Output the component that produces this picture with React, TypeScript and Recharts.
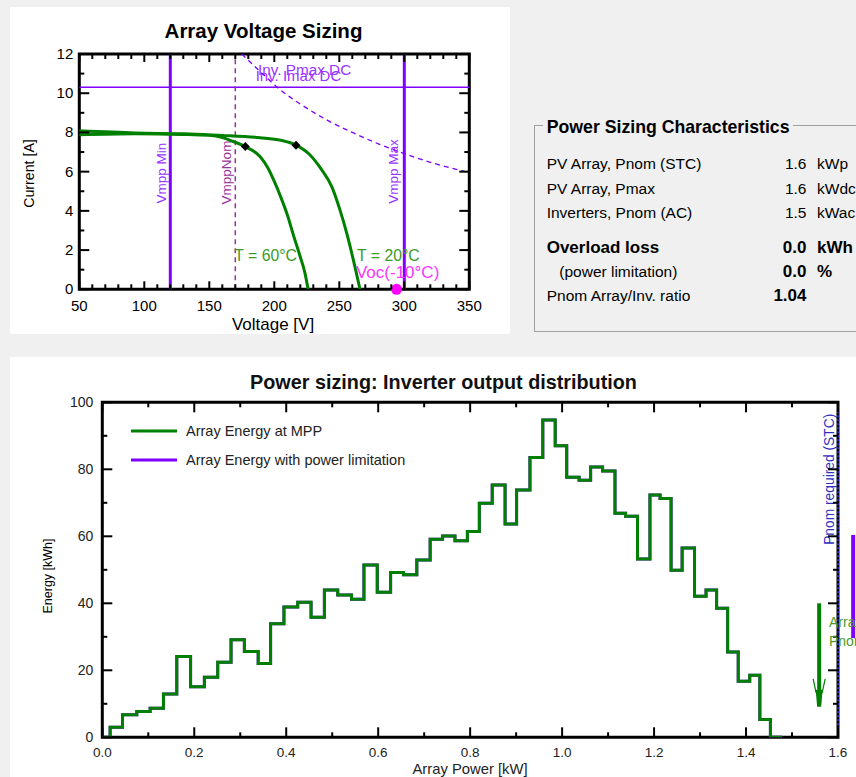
import React from 'react';
import { ComposedChart, Line, XAxis, YAxis, ReferenceLine, ReferenceDot, ReferenceArea } from 'recharts';

const FONT = "'Liberation Sans', Arial, Helvetica, sans-serif";

// ---------------- Array Voltage Sizing data ----------------
const ivVoltage60 = [50, 93, 130, 150, 160, 168, 177.7, 189, 195, 200, 205, 210, 215, 220, 223.5, 226];
const ivCurrent60 = [7.88, 7.93, 7.9, 7.85, 7.74, 7.55, 7.28, 6.77, 6.2, 5.5, 4.7, 3.8, 2.7, 1.65, 0.85, 0];
const ivVoltage20 = [50, 93, 130, 160, 189, 205, 216.7, 227.5, 236.5, 244.2, 250.5, 255.7, 260.8, 265.9];
const ivCurrent20 = [8.08, 7.97, 7.93, 7.85, 7.73, 7.6, 7.35, 6.85, 6.09, 5.24, 4.05, 2.86, 1.5, 0];
const pmaxVoltage = [175, 190, 205, 220, 240, 260, 280, 300, 325, 350];
const pmaxCurrent = [12.0, 11.05, 10.15, 9.45, 8.65, 8.0, 7.42, 6.92, 6.38, 5.95];
const vmppMin = 120;
const vmppNom = 170;
const vmppMax = 300;
const invImaxDC = 10.3;
const mppPoints = [
  { v: 177.7, i: 7.28 },
  { v: 216.7, i: 7.35 },
];
const vocMinus10 = 294;
const voltageTicks = [50, 60, 70, 80, 90, 100, 110, 120, 130, 140, 150, 160, 170, 180, 190, 200, 210, 220, 230, 240, 250, 260, 270, 280, 290, 300, 310, 320, 330, 340, 350];
const currentTicks = [0, 1, 2, 3, 4, 5, 6, 7, 8, 9, 10, 11, 12];

// ---------------- Power sizing data ----------------
const powerBinEdges = [0, 0.017, 0.044, 0.075, 0.104, 0.133, 0.162, 0.192, 0.222, 0.251, 0.28, 0.309, 0.339, 0.366, 0.395, 0.425, 0.454, 0.483, 0.512, 0.542, 0.569, 0.598, 0.627, 0.655, 0.684, 0.713, 0.74, 0.767, 0.794, 0.82, 0.848, 0.876, 0.901, 0.93, 0.958, 0.985, 1.01, 1.037, 1.062, 1.088, 1.115, 1.138, 1.164, 1.191, 1.213, 1.237, 1.261, 1.288, 1.313, 1.336, 1.36, 1.383, 1.408, 1.43, 1.453, 1.478];
const energyAtMPP = [0, 3.0, 6.7, 7.7, 8.7, 12.9, 24.1, 15.1, 17.9, 22.4, 29.1, 25.6, 22.0, 33.9, 38.9, 40.3, 35.8, 44.0, 42.5, 41.2, 51.4, 43.3, 49.2, 48.5, 52.9, 59.1, 60.1, 58.7, 61.4, 69.9, 75.3, 63.7, 73.8, 83.5, 94.7, 87.0, 77.6, 76.7, 80.7, 79.5, 66.9, 66.0, 53.2, 72.3, 71.3, 49.9, 56.5, 42.1, 44.0, 38.5, 25.5, 16.7, 18.5, 5.3, 0, 0];
const energyWithLimitation = [0, 3.0, 6.7, 7.7, 8.7, 12.9, 24.1, 15.1, 17.9, 22.4, 29.1, 25.6, 22.0, 33.9, 38.9, 40.3, 35.8, 44.0, 42.5, 41.2, 51.4, 43.3, 49.2, 48.5, 52.9, 59.1, 60.1, 58.7, 61.4, 69.9, 75.3, 63.7, 73.8, 83.5, 94.7, 87.0, 77.6, 76.7, 80.7, 79.5, 66.9, 66.0, 53.2, 72.3, 71.3, 49.9, 56.5, 42.1, 44.0, 38.5, 25.5, 16.7, 18.5, 5.3, 0, 0];
const powerTicks = [0, 0.1, 0.2, 0.3, 0.4, 0.5, 0.6, 0.7, 0.8, 0.9, 1.0, 1.1, 1.2, 1.3, 1.4, 1.5, 1.6];
const energyTicks = [0, 10, 20, 30, 40, 50, 60, 70, 80, 90, 100];
const pnomRequired = 1.6;
const arrayArrow = { p: 1.559, top: 40, bottom: 9.1 };
const limitArrow = { p: 1.633, top: 60.4, bottom: 29.6 };

// ---------------- Panel text ----------------
const rowLabels = ['PV Array, Pnom (STC)', 'PV Array, Pmax', 'Inverters, Pnom (AC)', 'Overload loss', '(power limitation)', 'Pnom Array/Inv. ratio'];
const rowValues = ['1.6', '1.6', '1.5', '0.0', '0.0', '1.04'];
const rowUnits = ['kWp', 'kWdc', 'kWac', 'kWh', '%', ''];

const iv60Data = ivVoltage60.map((v, k) => ({ v, i: ivCurrent60[k] }));
const iv20Data = ivVoltage20.map((v, k) => ({ v, i: ivCurrent20[k] }));
const pmaxData = pmaxVoltage.map((v, k) => ({ v, i: pmaxCurrent[k] }));
const mppData = powerBinEdges.map((p, k) => ({ p, e: energyAtMPP[k] }));
const limData = powerBinEdges.map((p, k) => ({ p, e: energyWithLimitation[k] }));

type TickCfg = {
  span: number;
  isMajor: (v: number) => boolean;
  fmt: (v: number) => string;
  majorLen: number;
  minorLen: number;
  fontSize: number;
  offset: number;
  color: string;
};

const renderXTick = (cfg: TickCfg) => (props: any) => {
  const { x, y, payload } = props;
  const v = payload.value;
  const major = cfg.isMajor(v);
  const len = major ? cfg.majorLen : cfg.minorLen;
  return (
    <g>
      <line x1={x} y1={y} x2={x} y2={y - len} stroke="#000" strokeWidth={2} />
      <line x1={x} y1={y - cfg.span} x2={x} y2={y - cfg.span + len} stroke="#000" strokeWidth={2} />
      {major && (
        <text x={x} y={y + cfg.offset} textAnchor="middle" fontSize={cfg.fontSize} fill={cfg.color} fontFamily={FONT}>
          {cfg.fmt(v)}
        </text>
      )}
    </g>
  );
};

const renderYTick = (cfg: TickCfg) => (props: any) => {
  const { x, y, payload } = props;
  const v = payload.value;
  const major = cfg.isMajor(v);
  const len = major ? cfg.majorLen : cfg.minorLen;
  return (
    <g>
      <line x1={x} y1={y} x2={x + len} y2={y} stroke="#000" strokeWidth={2} />
      <line x1={x + cfg.span} y1={y} x2={x + cfg.span - len} y2={y} stroke="#000" strokeWidth={2} />
      {major && (
        <text x={x - cfg.offset} y={y + 5} textAnchor="end" fontSize={cfg.fontSize} fill={cfg.color} fontFamily={FONT}>
          {cfg.fmt(v)}
        </text>
      )}
    </g>
  );
};

const vText = (text: string, dx: number, dy: number, color: string, size: number) => (p: any) => {
  const vb = p.viewBox || {};
  const x = vb.x + dx;
  const y = vb.y + dy;
  return (
    <text x={x} y={y} transform={`rotate(-90 ${x} ${y})`} textAnchor="middle" fontSize={size} fill={color} fontFamily={FONT}>
      {text}
    </text>
  );
};

const pointText = (text: string, color: string, size: number) => (p: any) => {
  const vb = p.viewBox || {};
  return (
    <text x={vb.x} y={vb.y} fontSize={size} fill={color} fontFamily={FONT}>
      {text}
    </text>
  );
};

const diamond = (p: any) => {
  const { cx, cy } = p;
  const s = 4.5;
  return <polygon points={`${cx},${cy - s} ${cx + s},${cy} ${cx},${cy + s} ${cx - s},${cy}`} fill="#000" />;
};

const arrowHead = (p: any) => {
  const { cx, cy } = p;
  return (
    <g>
      <polygon points={`${cx - 3.5},${cy - 17} ${cx + 3.5},${cy - 17} ${cx + 2},${cy} ${cx - 2},${cy}`} fill="#008000" />
      <line x1={cx - 6} y1={cy - 28} x2={cx - 3} y2={cy - 14} stroke="#008000" strokeWidth={1.2} />
      <line x1={cx + 6} y1={cy - 28} x2={cx + 3} y2={cy - 14} stroke="#008000" strokeWidth={1.2} />
    </g>
  );
};

const TOP_W = 500;
const TOP_H = 327;
const topMargin = { top: 47, right: 40.7, bottom: 14.7, left: 29.3 };
const TOP_PLOT_H = TOP_H - topMargin.top - topMargin.bottom - 30;
const TOP_PLOT_W = TOP_W - topMargin.left - topMargin.right - 40;

const BOT_W = 846;
const BOT_H = 420;
const botMargin = { top: 45.3, right: 18, bottom: 9.7, left: 42.3 };
const BOT_PLOT_H = BOT_H - botMargin.top - botMargin.bottom - 30;
const BOT_PLOT_W = BOT_W - botMargin.left - botMargin.right - 50;

const VIOLET = '#8000ff';
const GREEN = '#008000';

function VoltageChart() {
  return (
    <ComposedChart width={TOP_W} height={TOP_H} margin={topMargin}>
      <XAxis
        dataKey="v"
        type="number"
        domain={[50, 350]}
        ticks={voltageTicks}
        interval={0}
        allowDataOverflow
        axisLine={false}
        tickLine={false}
        tickSize={0}
        tickMargin={0}
        height={30}
        tick={renderXTick({
          span: TOP_PLOT_H,
          isMajor: (v) => v % 50 === 0,
          fmt: (v) => String(v),
          majorLen: 8,
          minorLen: 5,
          fontSize: 15,
          offset: 22,
          color: '#000',
        })}
      />
      <YAxis
        type="number"
        domain={[0, 12]}
        ticks={currentTicks}
        interval={0}
        allowDataOverflow
        axisLine={false}
        tickLine={false}
        tickSize={0}
        tickMargin={0}
        width={40}
        tick={renderYTick({
          span: TOP_PLOT_W,
          isMajor: (v) => v % 2 === 0,
          fmt: (v) => String(v),
          majorLen: 10,
          minorLen: 5,
          fontSize: 15,
          offset: 6,
          color: '#000',
        })}
      />
      <ReferenceLine
        y={invImaxDC}
        stroke={VIOLET}
        strokeWidth={1.5}
        label={(p: any) => {
          const vb = p.viewBox || {};
          return (
            <g>
              <text x={vb.x + 178.7} y={vb.y - 12.7} fontSize={15.3} fill="#9933ff" fontFamily={FONT}>Inv. Pmax DC</text>
              <text x={vb.x + 176.4} y={vb.y - 6} fontSize={15} fill="#9933ff" fontFamily={FONT}>Inv. Imax DC</text>
            </g>
          );
        }}
      />
      <ReferenceLine x={vmppMin} stroke={VIOLET} strokeWidth={3} label={vText('Vmpp Min', -4, 119, '#9933ff', 13.5)} />
      <ReferenceLine x={vmppNom} stroke="#993399" strokeWidth={1.5} strokeDasharray="5 4" label={vText('VmppNom', -4.5, 118.5, '#993399', 13.5)} />
      <ReferenceLine x={vmppMax} stroke={VIOLET} strokeWidth={3} label={vText('Vmpp Max', -6, 117.5, '#9933ff', 13.5)} />
      <Line data={pmaxData} dataKey="i" type="monotone" stroke={VIOLET} strokeWidth={1.3} strokeDasharray="5 4" dot={false} isAnimationActive={false} />
      <Line data={iv20Data} dataKey="i" type="monotone" stroke={GREEN} strokeWidth={3} dot={false} isAnimationActive={false} />
      <Line data={iv60Data} dataKey="i" type="monotone" stroke={GREEN} strokeWidth={3} dot={false} isAnimationActive={false} />
      <ReferenceArea x1={50} x2={350} y1={0} y2={12} fill="none" fillOpacity={0} stroke="#000" strokeWidth={3} />
      {mppPoints.map((m, k) => (
        <ReferenceDot key={k} x={m.v} y={m.i} r={4} shape={diamond} />
      ))}
      <ReferenceDot x={170} y={1.39} r={1} fill="none" stroke="none" label={pointText('T = 60°C', '#3c9a28', 15.8)} />
      <ReferenceDot x={264.4} y={1.39} r={1} fill="none" stroke="none" label={pointText('T = 20°C', '#3c9a28', 15.8)} />
      <ReferenceDot x={263.6} y={0.53} r={1} fill="none" stroke="none" label={pointText('Voc(-10°C)', '#ff33ff', 17)} />
      <ReferenceDot x={vocMinus10} y={0} r={5.5} fill="#ff00ff" stroke="none" ifOverflow="visible" />
    </ComposedChart>
  );
}

function PowerChart() {
  return (
    <ComposedChart width={BOT_W} height={BOT_H} margin={botMargin}>
      <XAxis
        dataKey="p"
        type="number"
        domain={[0, 1.6]}
        ticks={powerTicks}
        interval={0}
        allowDataOverflow
        axisLine={false}
        tickLine={false}
        tickSize={0}
        tickMargin={0}
        height={30}
        tick={renderXTick({
          span: BOT_PLOT_H,
          isMajor: (v) => Math.round(v * 10) % 2 === 0,
          fmt: (v) => v.toFixed(1),
          majorLen: 10,
          minorLen: 5,
          fontSize: 13.5,
          offset: 19.5,
          color: '#222',
        })}
      />
      <YAxis
        type="number"
        domain={[0, 100]}
        ticks={energyTicks}
        interval={0}
        allowDataOverflow
        axisLine={false}
        tickLine={false}
        tickSize={0}
        tickMargin={0}
        width={50}
        tick={renderYTick({
          span: BOT_PLOT_W,
          isMajor: (v) => v % 20 === 0,
          fmt: (v) => String(v),
          majorLen: 10,
          minorLen: 5,
          fontSize: 14,
          offset: 9,
          color: '#222',
        })}
      />
      <Line data={limData} dataKey="e" type="stepAfter" stroke={VIOLET} strokeWidth={3} dot={false} isAnimationActive={false} />
      <Line data={mppData} dataKey="e" type="stepAfter" stroke={GREEN} strokeWidth={3} dot={false} isAnimationActive={false} />
      <ReferenceArea x1={0} x2={1.6} y1={0} y2={100} fill="none" fillOpacity={0} stroke="#000" strokeWidth={3} />
      <ReferenceLine
        x={pnomRequired}
        stroke="#3030ff"
        strokeWidth={1.5}
        strokeDasharray="2 2"
        label={vText('Pnom required (STC)', -4, 77, '#3030c0', 13.8)}
      />
      <ReferenceLine
        segment={[{ x: arrayArrow.p, y: arrayArrow.top }, { x: arrayArrow.p, y: arrayArrow.bottom + 4 }]}
        stroke={GREEN}
        strokeWidth={4}
        ifOverflow="visible"
      />
      <ReferenceDot x={arrayArrow.p} y={arrayArrow.bottom} r={3} shape={arrowHead} ifOverflow="visible" />
      <ReferenceLine
        segment={[{ x: limitArrow.p, y: limitArrow.top }, { x: limitArrow.p, y: limitArrow.bottom }]}
        stroke={VIOLET}
        strokeWidth={4}
        ifOverflow="visible"
      />
    </ComposedChart>
  );
}

export default function App() {
  const rowBase = [168.5, 193.5, 217.5, 253, 277, 300.5];
  return (
    <div
      style={{
        position: 'absolute',
        left: 0,
        top: 0,
        width: 856,
        height: 777,
        background: '#f0f0f0',
        overflow: 'hidden',
        fontFamily: FONT,
      }}
    >
      <div style={{ position: 'absolute', left: 10, top: 7, width: TOP_W, height: TOP_H, background: '#fff' }}>
        <VoltageChart />
      </div>
      <div style={{ position: 'absolute', left: 10, top: 357, width: BOT_W, height: BOT_H, background: '#fff' }}>
        <PowerChart />
      </div>
      <svg
        width={856}
        height={777}
        style={{ position: 'absolute', left: 0, top: 0, pointerEvents: 'none' }}
        fontFamily={FONT}
      >
        {/* top chart texts */}
        <text x={263.5} y={38} textAnchor="middle" fontSize={20.5} fontWeight="bold" fill="#000">Array Voltage Sizing</text>
        <text x={34} y={173.5} transform="rotate(-90 34 173.5)" textAnchor="middle" fontSize={14.2} fill="#000">Current [A]</text>
        <text x={273} y={329.5} textAnchor="middle" fontSize={17} fill="#000">Voltage [V]</text>

        {/* Power Sizing Characteristics group box */}
        <rect x={534.5} y={125.5} width={340} height={206} fill="none" stroke="#a0a0a0" strokeWidth={1} />
        <rect x={543} y={115} width={250} height={22} fill="#f0f0f0" />
        <text x={546.7} y={133} fontSize={17.7} fontWeight="bold" fill="#000">Power Sizing Characteristics</text>
        {rowLabels.map((lab, k) => {
          const bold = k === 3;
          const valBold = k >= 3;
          return (
            <g key={k}>
              <text x={k === 4 ? 559.3 : 546.7} y={rowBase[k]} fontSize={bold ? 17 : 15.5} fontWeight={bold ? 'bold' : 'normal'} fill="#000">{lab}</text>
              <text x={806.5} y={rowBase[k]} textAnchor="end" fontSize={valBold ? 17 : 15.5} fontWeight={valBold ? 'bold' : 'normal'} fill="#000">{rowValues[k]}</text>
              {rowUnits[k] && (
                <text x={817} y={rowBase[k]} fontSize={valBold ? 17 : 15.5} fontWeight={valBold ? 'bold' : 'normal'} fill="#000">{rowUnits[k]}</text>
              )}
            </g>
          );
        })}

        {/* bottom chart texts */}
        <text x={443.5} y={388.5} textAnchor="middle" fontSize={19.8} fontWeight="bold" fill="#111">Power sizing: Inverter output distribution</text>
        <line x1={131} y1={431} x2={177} y2={431} stroke={GREEN} strokeWidth={3} />
        <text x={186} y={436} fontSize={14.5} fill="#222">Array Energy at MPP</text>
        <line x1={131} y1={460} x2={177} y2={460} stroke={VIOLET} strokeWidth={3} />
        <text x={186} y={465} fontSize={14.5} fill="#222">Array Energy with power limitation</text>
        <text x={52} y={576} transform="rotate(-90 52 576)" textAnchor="middle" fontSize={12.5} fill="#000">Energy [kWh]</text>
        <text x={470} y={773.5} textAnchor="middle" fontSize={14.8} fill="#222">Array Power [kW]</text>
        <text x={829} y={627} fontSize={14} fill="#4c9a2a">Array</text>
        <text x={829} y={646} fontSize={14} fill="#4c9a2a">Pnom</text>
      </svg>
    </div>
  );
}
